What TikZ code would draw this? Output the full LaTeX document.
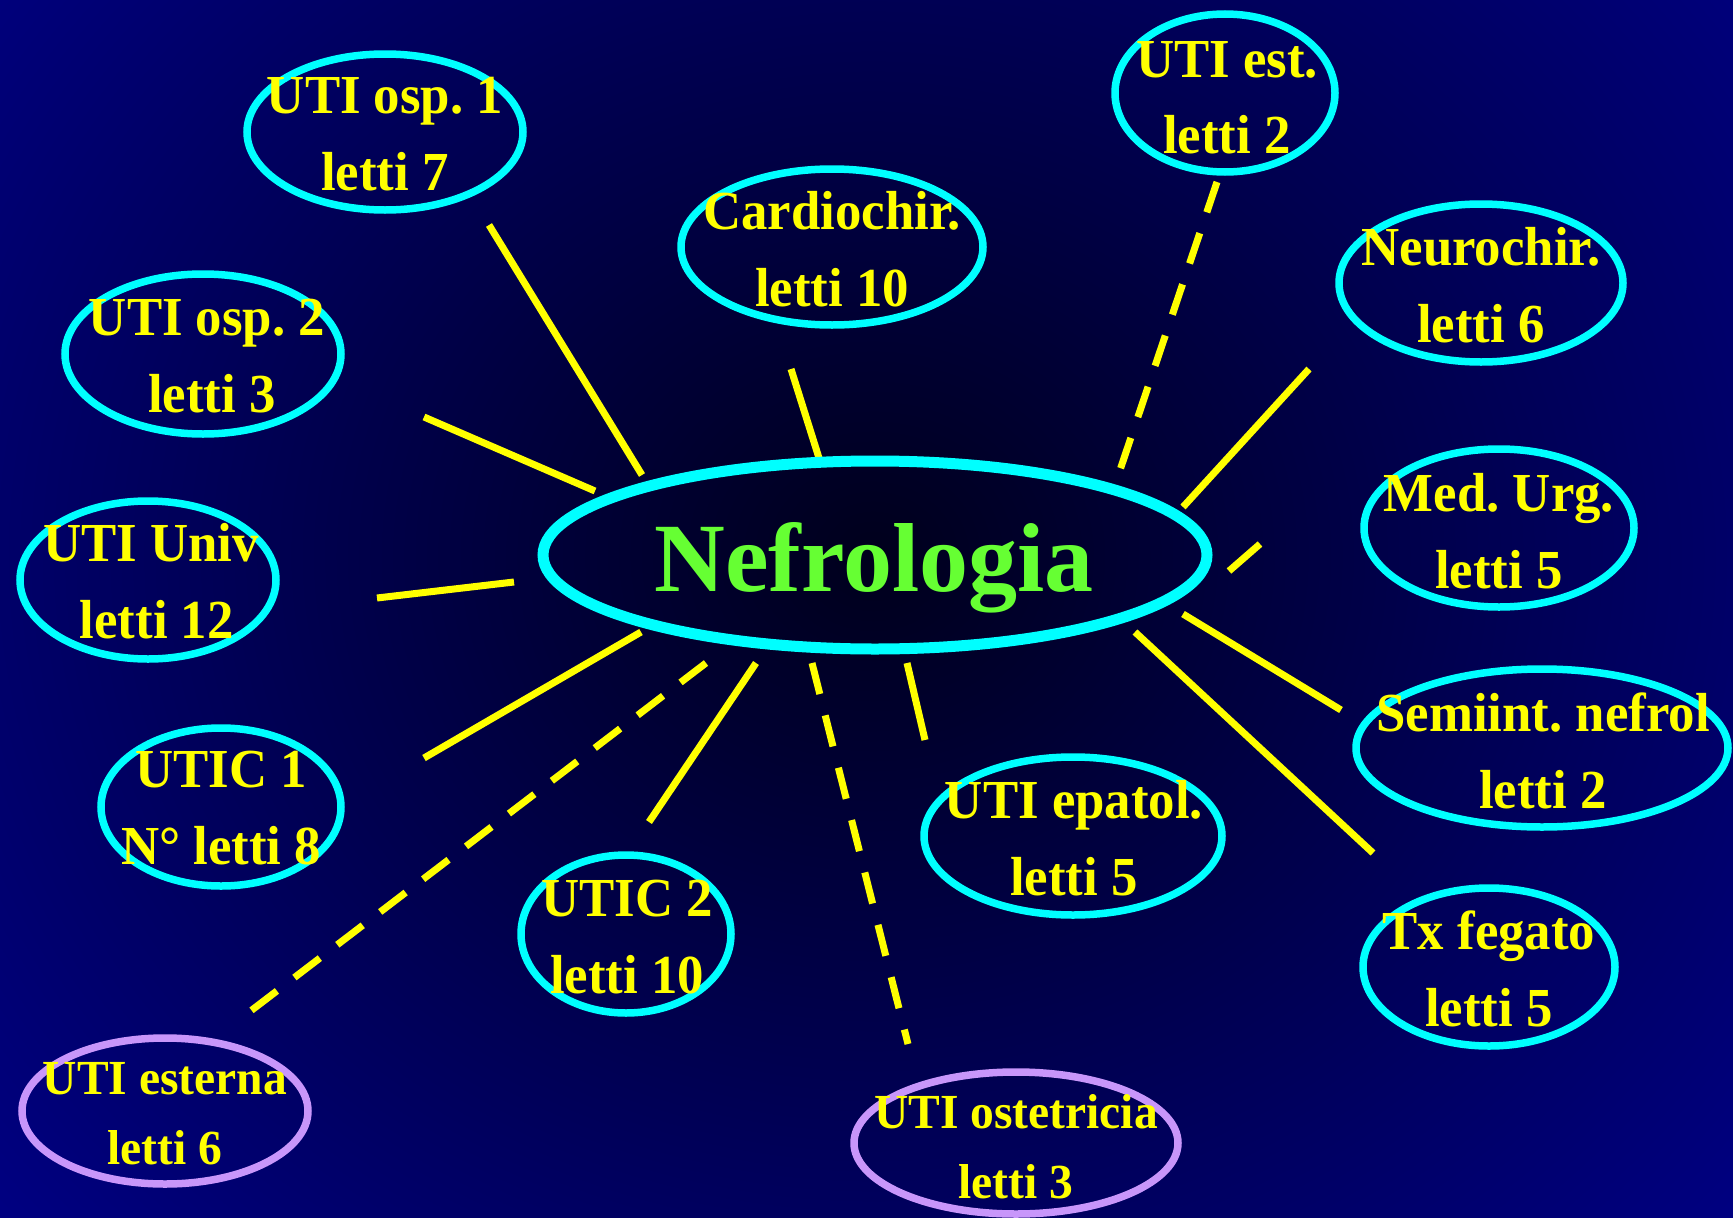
\documentclass[tikz,border=0pt]{standalone}
\usepackage{fontspec}
\setmainfont{Liberation Serif}
\usepackage{graphicx}
\usetikzlibrary{shapes.geometric}
\definecolor{bg}{RGB}{0,0,143}
\definecolor{bgc}{RGB}{0,0,28}
\definecolor{cy}{RGB}{0,255,255}
\definecolor{yl}{RGB}{255,255,0}
\definecolor{gr}{RGB}{102,255,51}
\definecolor{pu}{RGB}{200,150,250}
\newcommand{\twol}[3][0.96]{\scalebox{#1}[1]{\begin{tabular}[t]{@{}c@{}}#2\\#3\end{tabular}}}
\frenchspacing
\begin{document}
\begin{tikzpicture}[x=1pt,y=-1pt,
 ell/.style={ellipse, draw=cy, line width=7.5pt, inner sep=0pt},
 pell/.style={ell, draw=pu},
 lbl/.style={text=yl, inner sep=0pt, anchor=base, font=\bfseries\frenchspacing\fontsize{55}{77}\selectfont},
 plbl/.style={lbl, font=\bfseries\frenchspacing\fontsize{49}{70}\selectfont},
 link/.style={draw=yl, line width=7pt},
 dlink/.style={link, dash pattern=on 32pt off 22pt}]
\useasboundingbox (0,0) rectangle (1733,1218);
\fill[bg] (0,0) rectangle (1733,1218);
\begin{scope}
\clip (0,0) rectangle (1733,1218);
\shade[inner color=bgc, outer color=bg] (873,556) ellipse [x radius=1300, y radius=1150];
\end{scope}
% connectors
\coordinate (a1) at (489,225);  \coordinate (b1) at (642,475);
\coordinate (a2) at (791,369);  \coordinate (b2) at (819,458);
\coordinate (a3) at (1217,182); \coordinate (b3) at (1118,476);
\coordinate (a4) at (1309,369); \coordinate (b4) at (1183,507);
\coordinate (a5) at (424,417);  \coordinate (b5) at (595,491);
\coordinate (a6) at (1260,544); \coordinate (b6) at (1229,571);
\coordinate (a7) at (377,598);  \coordinate (b7) at (514,582);
\coordinate (a8) at (1183,614); \coordinate (b8) at (1341,710);
\coordinate (a9) at (424,758);  \coordinate (b9) at (641,632);
\coordinate (a10) at (1135,632); \coordinate (b10) at (1373,853);
\coordinate (a11) at (907,663);  \coordinate (b11) at (925,740);
\coordinate (a12) at (756,663);  \coordinate (b12) at (649,822);
\coordinate (a13) at (706,663);  \coordinate (b13) at (248,1013);
\coordinate (a14) at (812,663);  \coordinate (b14) at (908,1044);
\draw[link] (a1) -- (b1);
\draw[link] (a2) -- (b2);
\draw[dlink] (a3) -- (b3);
\draw[link] (a4) -- (b4);
\draw[link] (a5) -- (b5);
\draw[link] (a6) -- (b6);
\draw[link] (a7) -- (b7);
\draw[link] (a8) -- (b8);
\draw[link] (a9) -- (b9);
\draw[link] (a10) -- (b10);
\draw[link] (a11) -- (b11);
\draw[link] (a12) -- (b12);
\draw[dlink] (a13) -- (b13);
\draw[dlink] (a14) -- (b14);
% ellipses
\node[ell, line width=11pt, minimum width=664, minimum height=188] (nef) at (875,555) {};
\node[ell, minimum width=276, minimum height=156] (osp1) at (385,132) {};
\node[ell, minimum width=302, minimum height=156] (card) at (832,247) {};
\node[ell, minimum width=220, minimum height=158] (est) at (1225,93) {};
\node[ell, minimum width=284, minimum height=158] (neur) at (1481,283) {};
\node[ell, minimum width=276, minimum height=160] (osp2) at (203,354) {};
\node[ell, minimum width=270, minimum height=158] (murg) at (1499,528) {};
\node[ell, minimum width=256, minimum height=158] (univ) at (148,580) {};
\node[ell, minimum width=372, minimum height=158] (semi) at (1542,748) {};
\node[ell, minimum width=240, minimum height=158] (utic1) at (221,807) {};
\node[ell, minimum width=298, minimum height=158] (epat) at (1073,836) {};
\node[ell, minimum width=210, minimum height=158] (utic2) at (626,934) {};
\node[ell, minimum width=252, minimum height=158] (txf) at (1489,967) {};
\node[pell, minimum width=286, minimum height=146] (este) at (165,1111) {};
\node[pell, minimum width=324, minimum height=142] (oste) at (1016,1143) {};
% texts
\node[inner sep=0pt, anchor=base, text=gr, font=\bfseries\fontsize{98}{98}\selectfont] (neft) at (874,591) {Nefrologia};
\node[lbl] (osp1t) at (385,113) {\twol{UTI osp. 1}{letti 7}};
\node[lbl] (cardt) at (832,229) {\twol{Cardiochir.}{letti 10}};
\node[lbl] (estt) at (1227,77) {\twol{UTI est.}{letti 2}};
\node[lbl] (neurt) at (1481,265) {\twol{Neurochir.}{letti 6}};
\node[lbl] (osp2t) at (207,335) {\twol{UTI osp. 2}{\hspace*{10pt}letti 3}};
\node[lbl] (murgt) at (1499,511) {\twol{Med. Urg.}{letti 5}};
\node[lbl] (univt) at (151,561) {\twol{UTI Univ}{\hspace*{12pt}letti 12}};
\node[lbl] (semit) at (1543,731) {\twol{Semiint. nefrol}{letti 2}};
\node[lbl] (utic1t) at (221,787) {\twol{UTIC 1}{N° letti 8}};
\node[lbl] (epatt) at (1074,818) {\twol{UTI epatol.}{letti 5}};
\node[lbl] (utic2t) at (627,916) {\twol{UTIC 2}{letti 10}};
\node[lbl] (txft) at (1489,949) {\twol{Tx fegato}{letti 5}};
\node[plbl] (estet) at (165,1094) {\twol[0.97]{UTI esterna}{letti 6}};
\node[plbl] (ostet) at (1016,1128) {\twol[0.97]{UTI ostetricia}{letti 3}};
\end{tikzpicture}
\end{document}
